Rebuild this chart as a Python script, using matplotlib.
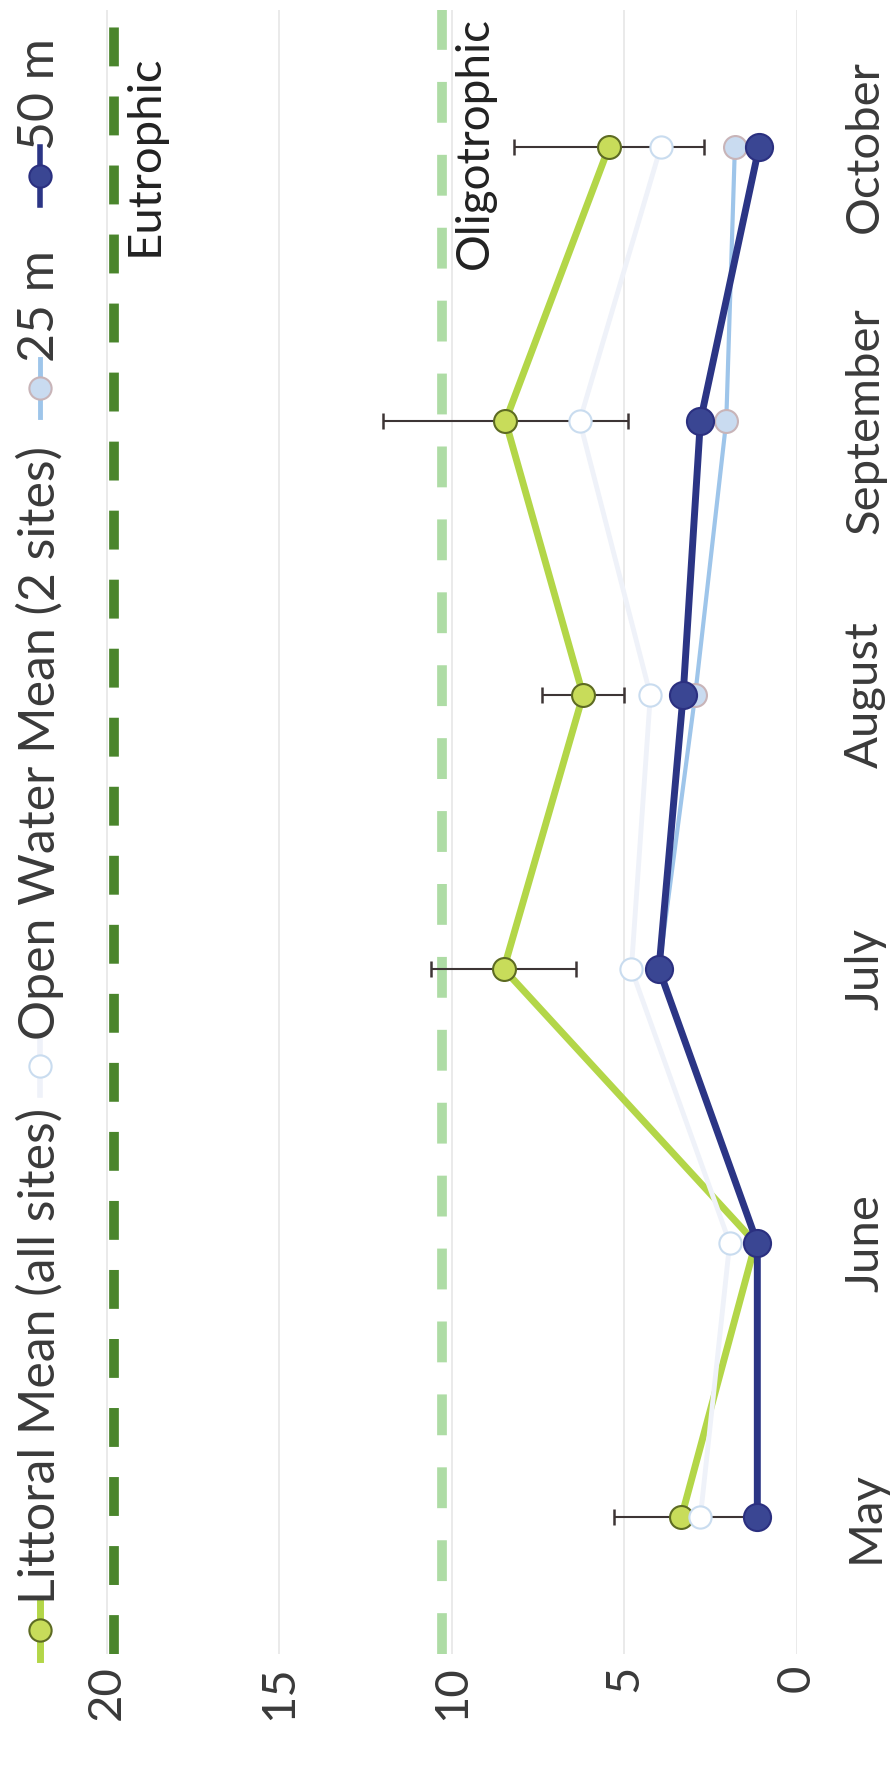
import matplotlib
matplotlib.use("Agg")
import matplotlib.pyplot as plt
import matplotlib.transforms as mtransforms
from matplotlib.lines import Line2D

plt.rcParams['font.family'] = ['Lato', 'DejaVu Sans']

# chart is drawn turned a quarter turn: values run right-to-left, months bottom-to-top
months = ["May", "June", "July", "August", "September", "October"]
littoral = [3.35, 1.2, 8.5, 6.2, 8.45, 5.45]
littoral_err = [1.95, 0.0, 2.1, 1.2, 3.55, 2.75]
open_water = [2.8, 1.95, 4.8, 4.25, 6.3, 3.95]
depth_25 = [1.15, 1.15, 4.0, 2.95, 2.05, 1.8]
depth_50 = [1.15, 1.15, 4.0, 3.3, 2.8, 1.1]
eutrophic = 19.8
oligotrophic = 10.3
value_ticks = [0, 5, 10, 15, 20]

W, H = 892, 1769
TXT = '#3a3a3a'

fig = plt.figure(figsize=(W / 100, H / 100), dpi=100)
fig.patch.set_facecolor('white')
ax = fig.add_axes([100 / W, 1 - 1654 / H, (797 - 100) / W, 1644 / H])

pos = list(range(len(months)))

# trophic thresholds
ax.axvline(eutrophic, color='#4a852c', lw=7, ls=(0, (4.0, 3.1)),
           dash_capstyle='butt', zorder=1)
ax.axvline(oligotrophic, color='#aedca5', lw=7, ls=(0, (4.2, 3.3)),
           dash_capstyle='butt', zorder=1)

# error bars of littoral mean
ax.errorbar(littoral, pos, xerr=littoral_err, fmt='none', ecolor='#3d3535',
            elinewidth=1.5, capsize=5.5, capthick=1.8, zorder=2)

ax.plot(littoral, pos, color='#b3d648', lw=5, marker='o', ms=16.5,
        mfc='#c8dc5a', mec='#5d6b22', mew=1.5, zorder=3)
ax.plot(open_water, pos, color='#eff2f9', lw=3.5, marker='o', ms=16,
        mfc='white', mec='#c9dcef', mew=1.5, zorder=4)
ax.plot(depth_25, pos, color='#9ec5ea', lw=3, marker='o', ms=16.5,
        mfc='#c9dbf0', mec='#c8b4b8', mew=1.5, zorder=5)
ax.plot(depth_50, pos, color='#2b3585', lw=5, marker='o', ms=19.5,
        mfc='#3a4693', mec='#2b3080', mew=1.5, zorder=6)

ax.set_xlim(20.2, 0)
ax.set_ylim(-0.5, len(months) - 0.5)
ax.set_xticks(value_ticks)
ax.set_xticklabels([str(v) for v in value_ticks], rotation=90, fontsize=34,
                   color=TXT, va='top', ha='center')
ax.set_yticks(pos)
ax.yaxis.tick_right()
ax.set_yticklabels(months, rotation=90, fontsize=34, color=TXT,
                   va='center', ha='left')
ax.tick_params(axis='x', length=0, pad=8)
ax.tick_params(axis='y', length=0, pad=34)
ax.grid(axis='x', color='#e6e6e6', lw=1.2)
ax.set_axisbelow(True)
for s in ax.spines.values():
    s.set_visible(False)

# threshold labels
top = mtransforms.blended_transform_factory(ax.transData, ax.transAxes)
ax.annotate("Eutrophic", xy=(eutrophic, 1), xycoords=top, xytext=(7, -32),
            textcoords='offset points', rotation=90, ha='left', va='top',
            fontsize=34, color='#222222')
ax.annotate("Oligotrophic", xy=(oligotrophic, 1), xycoords=top, xytext=(9, -5),
            textcoords='offset points', rotation=90, ha='left', va='top',
            fontsize=33, color='#222222')

# legend, turned like the rest of the chart
legend_items = [
    ("Littoral Mean (all sites)", '#b3d648', 5, '#c8dc5a', '#5d6b22', 1630),
    ("Open Water Mean (2 sites)", '#eff2f9', 4, 'white', '#c9dcef', 1066),
    ("25 m", '#9ec5ea', 3.5, '#c9dbf0', '#c8b4b8', 388),
    ("50 m", '#2b3585', 4, '#3a4693', '#2b3080', 176),
]
lx = 40
for label, lc, lw, fc, ec, my in legend_items:
    fig.add_artist(Line2D([lx / W, lx / W], [1 - (my + 29) / H, 1 - (my - 29) / H],
                          color=lc, lw=lw, transform=fig.transFigure))
    fig.add_artist(Line2D([lx / W], [1 - my / H], marker='o', ms=16, mfc=fc,
                          mec=ec, mew=1.5, transform=fig.transFigure))
    fig.text(lx / W, 1 - (my - 26) / H, label, rotation=90, ha='center',
             va='bottom', fontsize=36, color=TXT)

fig.savefig("out.png", dpi=100)
